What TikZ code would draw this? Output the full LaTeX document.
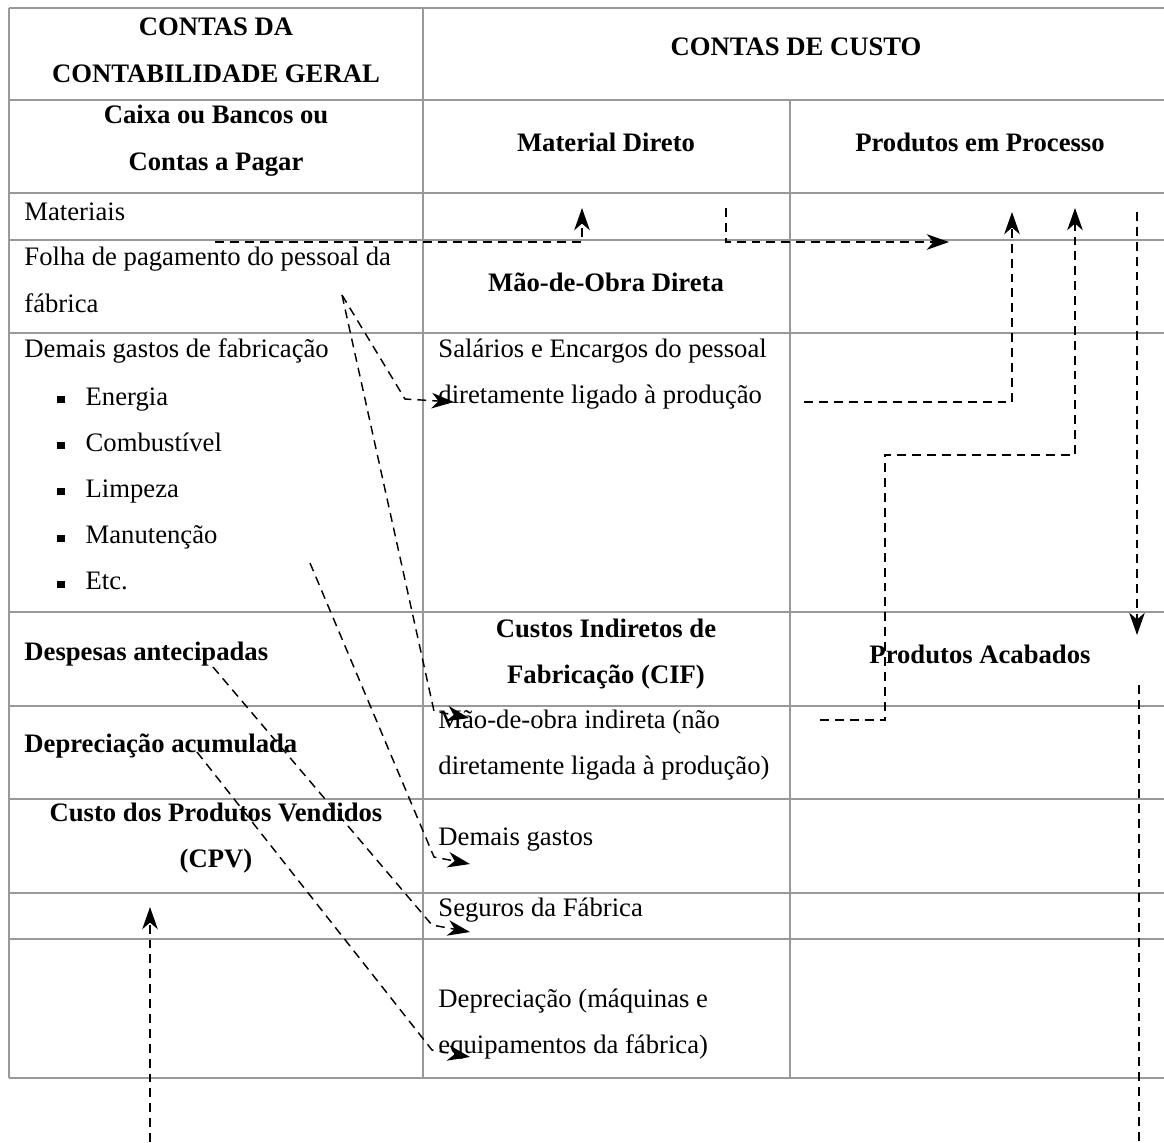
\documentclass[tikz,border=0pt]{standalone}
\usepackage{fontspec}
\setmainfont{Liberation Serif}
\usetikzlibrary{arrows.meta}
\colorlet{gridline}{gray!80}
\newcommand{\sqbullet}{\rule[0.9pt]{3.2pt}{3.2pt}\hspace{9.5pt}}

\begin{document}
\begin{tikzpicture}[x=0.45pt, y=-0.45pt,
      grid/.style={draw=gridline, line width=0.75pt},
      txt/.style={font=\fontsize{12}{21}\selectfont, inner sep=0pt, align=left},
      hd/.style={txt, font=\fontsize{12}{21}\selectfont\bfseries, align=center},
      flow/.style={dash pattern=on 4pt off 2.7pt, line width=0.65pt,
                   -{Stealth[length=10pt, width=7pt, inset=3pt]}},
      heavyflow/.style={flow, line width=0.9pt}
    ]
    \useasboundingbox (0,0) rectangle (1164,1142);
    % table
    \foreach \y in {8,100,193,240,333,612,706,799,893,939,1078}
      \draw[grid] (9,\y) -- (1164,\y);
    \draw[grid] (9,8) -- (9,1078);
    \draw[grid] (423,8) -- (423,1078);
    \draw[grid] (790,100) -- (790,1078);

    % headers
    \node[hd] (cg) at (216,50) {CONTAS DA\\CONTABILIDADE GERAL};
    \node[hd] (cc) at (796,47) {CONTAS DE CUSTO};
    \node[hd] (cx) at (216,141) {Caixa ou Bancos ou\\Contas a Pagar};
    \node[hd] (md) at (606,142) {Material Direto};
    \node[hd] (pp) at (980,142) {Produtos em Processo};

    % contabilidade geral
    \node[txt, anchor=west] (mat) at (24,212) {Materiais};
    \node[txt, anchor=west] (fp) at (24,280)
      {Folha de pagamento do pessoal da\\fábrica};
    \node[txt, anchor=west] (dgf) at (24,351) {Demais gastos de fabricação};
    \foreach \t [count=\i] in {Energia,Combustível,Limpeza,Manutenção,Etc.}
      \node[txt, anchor=base west] (it\i) at (57,358.8+46.2*\i) {\sqbullet\t};
    \node[hd, anchor=west] (da) at (24,654) {Despesas antecipadas};
    \node[hd, anchor=west] (dac) at (24,746) {Depreciação acumulada};
    \node[hd] (cpv) at (216,838) {Custo dos Produtos Vendidos\\(CPV)};

    % contas de custo
    \node[hd] (mod) at (606,282) {Mão-de-Obra Direta};
    \node[txt, anchor=west] (sal) at (438,374)
      {Salários e Encargos do pessoal\\diretamente ligado à produção};
    \node[hd] (cif) at (606,654) {Custos Indiretos de\\Fabricação (CIF)};
    \node[hd] (pa) at (980,654) {Produtos Acabados};
    \node[txt, anchor=west] (moi) at (438,745)
      {Mão-de-obra indireta (não\\diretamente ligada à produção)};
    \node[txt, anchor=west] (dg) at (438,840) {Demais gastos};
    \node[txt, anchor=west] (sf) at (438,910) {Seguros da Fábrica};
    \node[txt, anchor=west] (dep) at (438,1024)
      {Depreciação (máquinas e\\equipamentos da fábrica)};

    % flows between cells
    \coordinate (matS) at (215,242);  \coordinate (matT) at (582,208);
    \coordinate (mdS) at (726,208);   \coordinate (mdT) at (949,242);
    \coordinate (salS) at (804,402);  \coordinate (salT) at (1012,212);
    \coordinate (moiS) at (820,720);  \coordinate (moiB) at (885,455);
    \coordinate (moiT) at (1075,208);
    \coordinate (ppS) at (1137,212);  \coordinate (ppT) at (1137,635);
    \coordinate (paS) at (1139,685);  \coordinate (paE) at (1139,1142);
    \coordinate (cpvS) at (150,1142); \coordinate (cpvT) at (150,907);
    \draw[heavyflow] (matS) -| (matT);
    \draw[heavyflow] (mdS) |- (mdT);
    \draw[flow] (salS) -| (salT);
    \draw[flow] (moiS) -| (moiB) -| (moiT);
    \draw[flow] (ppS) -- (ppT);
    \draw[flow, -] (paS) -- (paE);
    \draw[flow] (cpvS) -- (cpvT);

    % flows from contabilidade geral
    \coordinate (fpS) at (342,295);
    \coordinate (etcS) at (310,563);
    \coordinate (daS) at (213,667);
    \coordinate (dacS) at (197,752);
    \draw[flow] (fpS) -- (405,399) -- (454,402);
    \draw[flow] (fpS) -- (434,711) -- (469,718);
    \draw[flow] (etcS) -- (434,857) -- (470,864);
    \draw[flow] (daS) -- (432,925) -- (470,932);
    \draw[flow] (dacS) -- (432,1050) -- (470,1057);
  \end{tikzpicture}
\end{document}
